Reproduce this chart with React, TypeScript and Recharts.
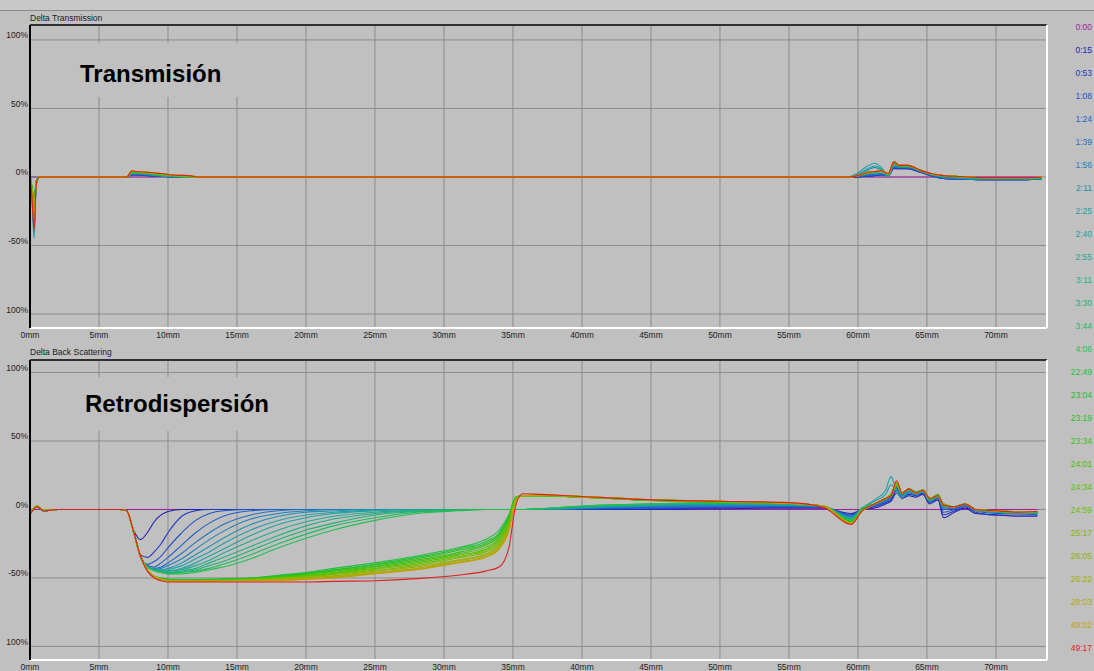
import React from 'react';
import { LineChart, Line, XAxis, YAxis, CartesianGrid, ReferenceLine } from 'recharts';

const W = 1094;
const H = 671;
const FONT = 'Arial, "Liberation Sans", sans-serif';
const BG = '#c0c0c0';
const GRID = '#8c8c8c';
const X_MAX = 73.7;
const PLOT_LEFT = 30;
const PLOT_RIGHT = 1047;

// scan times, oldest first (one trace per scan)
const scanTimes = [
  '0:00', '0:15', '0:53', '1:08', '1:24', '1:39', '1:56', '2:11', '2:25', '2:40',
  '2:55', '3:11', '3:30', '3:44', '4:06', '22:49', '23:04', '23:19', '23:34', '24:01',
  '24:34', '24:59', '25:17', '26:05', '26:22', '28:03', '49:02', '49:17',
];

const traceColors = [
  '#a020a0', '#2020b0', '#2038c0', '#2050c8', '#2060c8', '#2070c0', '#2080b8', '#2090b0', '#20a0a8', '#20a0a0',
  '#20a890', '#20b080', '#20b070', '#20b860', '#20c050', '#20c040', '#20c030', '#28c020', '#38c010', '#48c000',
  '#58c000', '#68c000', '#80b800', '#90b000', '#a0b000', '#b0a800', '#c0a000', '#e02020',
];

const xTickValues = [0, 5, 10, 15, 20, 25, 30, 35, 40, 45, 50, 55, 60, 65, 70];
const yTickValues = [100, 50, 0, -50, -100];
const yTickText = ['100%', '50%', '0%', '-50%', '100%'];

// Delta Transmission: tube height (mm) and delta (%) per scan
const transPosMm = [0, 0.15, 0.3, 0.45, 0.7, 7, 7.4, 7.7, 8.5, 9.5, 10.5, 11.5, 12.2, 59.3, 60, 60.7, 61.2, 61.7, 62.2, 62.6, 63, 63.6, 64.5, 65.3, 66.2, 67.5, 69, 70.5, 72, 73.3];

const transDelta: number[][] = [
  [0, 0, 0, 0, 0, 0, 0, 0, 0, 0, 0, 0, 0, 0, 0, 0, 0, 0, 0, 0, 0, 0, 0, 0, 0, 0, 0, 0, 0, 0],
  [1, -8, -18, -3, 0, 0, 1.5, 1.5, 1, 0.5, 0, 0, 0, 0, 0, 0.5, 1, 1.5, 1, 6, 6, 6, 3.5, 1, -1, -1.5, -2, -2, -2, -1.5],
  [1, -9, -22, -3, 0, 0, 1.5, 1.5, 1, 0.5, 0, 0, 0, 0, 0, 0.5, 1, 1.5, 1, 6.5, 6, 6, 3.5, 1, -1, -1.5, -2, -2, -2, -1.5],
  [1, -10, -25, -4, 0, 0, 2, 2, 1.5, 0.5, 0, 0, 0, 0, 0.5, 1, 1.5, 2, 1, 7, 6.5, 6.5, 4, 1, -1, -1.5, -2, -2, -2, -1.5],
  [1, -11, -28, -4, 0, 0, 2, 2, 1.5, 0.5, 0, 0, 0, 0, 0.5, 1, 1.5, 2, 1, 7, 7, 7, 4, 1.5, -0.5, -1.5, -2, -2, -2, -1.5],
  [1, -12, -30, -4, 0, 0, 2, 2, 1.5, 1, 0, 0, 0, 0, 0.5, 1.5, 2, 2, 1, 7.5, 7, 7, 4, 1.5, -0.5, -1, -1.5, -2, -2, -1.5],
  [1, -13, -33, -5, 0, 0, 2.5, 2.5, 2, 1, 0, 0, 0, 0, 1, 2, 3, 2.5, 1, 8, 7, 7, 4, 1.5, -0.5, -1, -1.5, -1.5, -1.5, -1],
  [1, -15, -38, -5, 0, 0, 2.5, 2.5, 2, 1, 0.5, 0, 0, 0, 2, 5, 7, 5, 1, 9, 7.5, 7.5, 4.5, 2, 0, -1, -1.5, -1.5, -1.5, -1],
  [1, -18, -45, -6, 0, 0, 2.5, 2.5, 2, 1, 0.5, 0, 0, 0, 3, 8, 10, 7, 1, 11, 8, 8, 4.5, 2, 0.5, -0.5, -1, -1, -1, -0.5],
  [1, -17, -42, -6, 0, 0, 3, 3, 2, 1, 0.5, 0, 0, 0, 2, 6, 8, 6, 1, 10, 8, 8, 4.5, 2, 0.5, -0.5, -1, -1, -1, -0.5],
  [1, -14, -35, -5, 0, 0, 3, 3, 2.5, 1.5, 0.5, 0, 0, 0, 1, 3, 4, 4, 1.5, 10, 8, 8, 4.5, 2, 0.5, -0.5, -1, -1, -1, -0.5],
  [1, -12, -30, -4, 0, 0, 3, 3, 2.5, 1.5, 0.5, 0, 0, 0, 1, 3, 3.5, 4, 2, 10, 8, 8, 5, 2, 0.5, 0, -0.5, -1, -1, -0.5],
  [1, -11, -28, -4, 0, 0, 3, 3, 2.5, 1.5, 0.5, 0, 0, 0, 1, 3, 3.5, 4, 2, 10, 8, 8, 5, 2, 0.5, 0, -0.5, -1, -1, -0.5],
  [1, -10, -26, -4, 0, 0, 3, 3, 2.5, 1.5, 0.5, 0, 0, 0, 1, 3, 3.5, 4, 2, 10.5, 8, 8, 5, 2, 0.5, 0, -0.5, -1, -1, -0.5],
  [1, -10, -25, -4, 0, 0, 3, 3, 2.5, 1.5, 0.5, 0, 0, 0, 1, 3, 3.5, 4, 2, 10.5, 8, 8, 5, 2, 1, 0, -0.5, -0.5, -1, -0.5],
  [1, -9, -22, -3, 0, 0, 3.5, 3.5, 3, 2, 1, 0.5, 0, 0, 1, 3, 3.5, 4, 2, 10.5, 8, 8, 5, 2, 1, 0, -0.5, -0.5, -0.5, -0.5],
  [1, -9, -22, -3, 0, 0, 3.5, 3.5, 3, 2, 1, 0.5, 0, 0, 1, 3, 3.5, 4, 2, 10.5, 8, 8, 5, 2, 1, 0, -0.5, -0.5, -0.5, -0.5],
  [1, -8, -20, -3, 0, 0, 3.5, 3.5, 3, 2, 1, 0.5, 0, 0, 1, 3, 3.5, 4, 2, 10.5, 8, 8, 5, 2, 1, 0, -0.5, -0.5, -0.5, -0.5],
  [1, -8, -20, -3, 0, 0, 4, 3.5, 3, 2, 1, 0.5, 0, 0, 1, 3, 4, 4, 2, 10.5, 8, 8, 5, 2, 1, 0, -0.5, -0.5, -0.5, -0.5],
  [1, -9, -22, -3, 0, 0, 4, 3.5, 3, 2, 1, 0.5, 0, 0, 1, 3, 4, 4, 2, 10.5, 8.5, 8, 5, 2, 1, 0, -0.5, -0.5, -0.5, -0.5],
  [1, -10, -24, -3, 0, 0, 4, 3.5, 3, 2, 1, 0.5, 0, 0, 1, 3, 4, 4, 2, 11, 8.5, 8, 5, 2, 1, 0, -0.5, -0.5, -0.5, -0.5],
  [1, -10, -25, -4, 0, 0, 4, 4, 3, 2, 1, 0.5, 0, 0, 1, 3.5, 4, 4.5, 2, 11, 8.5, 8.5, 5, 2.5, 1, 0.3, -0.5, -0.5, -0.5, -0.2],
  [1, -10, -26, -4, 0, 0, 4, 4, 3.5, 2.5, 1, 0.5, 0, 0, 1, 3.5, 4, 4.5, 2, 11, 8.5, 8.5, 5, 2.5, 1, 0.3, -0.5, -0.5, -0.5, -0.2],
  [1, -11, -28, -4, 0, 0, 4.5, 4, 3.5, 2.5, 1.2, 1, 0, 0, 1, 3.5, 4, 4.5, 2.5, 11, 8.5, 8.5, 5, 2.5, 1, 0.3, -0.5, -0.5, -0.5, -0.2],
  [1, -11, -28, -4, 0, 0, 4.5, 4, 3.5, 2.5, 1.2, 1, 0, 0, 1, 3.5, 4, 4.5, 2.5, 11, 8.5, 8.5, 5, 2.5, 1, 0.3, -0.5, -0.5, -0.5, -0.2],
  [1, -12, -30, -4, 0, 0, 4.5, 4, 3.5, 2.5, 1.3, 1, 0, 0, 1, 3.5, 4, 4.5, 2.5, 11, 8.5, 8.5, 5, 2.5, 1, 0.3, -0.5, -0.5, -0.5, -0.2],
  [1, -13, -32, -5, 0, 0, 4.5, 4, 3.5, 2.5, 1.3, 1, 0, 0, 1, 3.5, 4, 4.5, 2.5, 11, 8.5, 8.5, 5, 2.5, 1, 0.3, -0.5, -0.5, -0.5, -0.2],
  [1, -16, -39, -5, 0, 0, 4.5, 4, 3.5, 2.5, 1.3, 1, 0, 0, 1, 3.5, 4, 4.5, 2.5, 11, 8.5, 8.5, 5, 2.5, 1, 0.3, -0.5, -0.5, -0.5, -0.2],
];

// Delta Back Scattering: tube height (mm) and delta (%) per scan
const backPosMm = [
  0, 0.5, 1, 2, 6.5, 7, 7.5, 8, 8.5, 9, 9.5, 10, 11, 12, 13, 14, 16, 18, 20, 22, 25, 28, 31, 33,
  34, 34.7, 35.2, 35.7, 37, 40, 45, 50, 55, 57.5, 59.5, 60.3, 61.2, 62, 62.4, 62.8, 63.2, 63.7,
  64.2, 64.7, 65.2, 65.8, 66.2, 67, 67.8, 68.5, 70, 71.5, 73,
];

const backDelta: number[][] = [
  // 0:00
  [0, 0, 0, 0, 0, 0, 0, 0, 0, 0, 0, 0, 0, 0, 0, 0, 0, 0, 0, 0, 0, 0, 0, 0, 0, 0, 0, 0, 0, 0, 0, 0, 0, 0, 0, 0, 0, 0, 0, 0, 0, 0, 0, 0, 0, 0, 0, 0, 0, 0, 0, 0, 0],
  // 0:15
  [-3, 2, -1, 0, 0, -1, -15, -22, -17, -9, -4, -1.5, 0, 0, 0, 0, 0, 0, 0, 0, 0, 0, 0, 0, 0, 0, 0, 0, 0, 0, 0, 0.5, 1, 1, -3, 0, 1, 4, 6, 12, 8, 10, 9, 11, 4, 7, -6, -2, 1, -3, -4, -5, -5],
  // 0:53
  [-3, 2, -1, 0, 0, -1, -16, -33, -35, -31, -25, -17, -5, -1, 0, 0, 0, 0, 0, 0, 0, 0, 0, 0, 0, 0, 0, 0, 0, 0, 0.5, 1, 1.5, 1.5, -4, 0, 2, 5, 7, 14, 9, 11, 10, 12, 5, 8, -4, -1, 2, -2, -4, -4, -4],
  // 1:08
  [-3, 2, -1, 0, 0, -1, -16, -34, -40, -38, -34, -28, -17, -8, -3, -1, 0, 0, 0, 0, 0, 0, 0, 0, 0, 0, 0, 0, 0, 0.5, 1, 1.5, 2, 1.5, -4, 0, 2, 5, 8, 15, 10, 12, 11, 12, 6, 9, -2, 0, 3, -1, -3, -3, -4],
  // 1:24
  [-3, 2, -1, 0, 0, -1, -16, -34, -41, -42, -39, -35, -26, -17, -10, -5, -1, 0, 0, 0, 0, 0, 0, 0, 0, 0, 0, 0, 0, 0.5, 1.5, 2, 2, 2, -5, 0, 3, 6, 9, 16, 10, 13, 11, 13, 6, 9, 0, 1, 3, 0, -2, -3, -3],
  // 1:39
  [-3, 2, -1, 0, 0, -1, -16, -34, -42, -43, -42, -39, -32, -24, -17, -11, -4, -1, 0, 0, 0, 0, 0, 0, 0, 0, 0, 0, 0, 1, 2, 2.5, 2.5, 2, -5, 0, 3, 6, 9, 16, 11, 13, 12, 13, 6, 9, 1, 1, 3, 0, -2, -3, -3],
  // 1:56
  [-3, 2, -1, 0, 0, -1, -16, -34, -42, -44, -43, -41, -36, -29, -22, -16, -7, -3, -1, 0, 0, 0, 0, 0, 0, 0, 0, 0, 0, 1, 2.5, 3, 3, 2, -6, 0.5, 4, 7, 10, 17, 11, 14, 12, 14, 7, 10, 2, 2, 3, 0, -2, -2.5, -2.5],
  // 2:11
  [-3, 2, -1, 0, 0, -1, -16, -34, -42, -44, -44, -43, -39, -33, -27, -21, -11, -5, -2, -1, 0, 0, 0, 0, 0, 0, 0, 0, 0, 1, 3, 3.5, 3, 2, -6, 1, 4, 7, 10, 17, 12, 14, 12, 14, 7, 10, 2, 2, 4, 0, -2, -2.5, -2],
  // 2:25
  [-3, 2, -1, 0, 0, -1, -16, -34, -42, -44, -45, -44, -41, -36, -31, -25, -15, -8, -4, -2, -0.5, 0, 0, 0, 0, 0, 0, 0, 0.5, 1.5, 3, 4, 3.5, 2, -6, 1, 7, 14, 24, 13, 9, 13, 11, 13, 6, 9, 1, 2, 4, -1, -2, -3, -3],
  // 2:40
  [-3, 2, -1, 0, 0, -1, -16, -34, -42, -44, -45, -45, -43, -39, -34, -29, -19, -11, -6, -3, -1, 0, 0, 0, 0, 0, 0, 0, 0.5, 1.5, 3.5, 4, 3.5, 2, -7, 1, 6, 11, 18, 14, 10, 13, 12, 13, 6, 9, 2, 2, 4, 0, -2, -2.5, -2.5],
  // 2:55
  [-3, 2, -1, 0, 0, -1, -16, -34, -42, -44, -45, -45, -44, -41, -37, -32, -23, -15, -9, -5, -2, -0.5, 0, 0, 0, 0, 0, 0, 0.5, 2, 3.5, 4.5, 4, 2.5, -7, 1, 4, 8, 11, 17, 12, 14, 12, 14, 7, 10, 3, 2, 4, 0, -1.5, -2, -2],
  // 3:11
  [-3, 2, -1, 0, 0, -1, -16, -34, -42, -44, -45, -46, -45, -43, -39, -35, -27, -19, -12, -7, -3, -1, 0, 0, 0, 0, 0, 0, 0.5, 2, 4, 4.5, 4, 2.5, -7, 1, 4, 8, 11, 18, 12, 15, 12, 14, 7, 10, 3, 2, 4, 0, -1.5, -2, -2],
  // 3:30
  [-3, 2, -1, 0, 0, -1, -16, -34, -42, -44, -45, -46, -46, -44, -41, -38, -30, -22, -15, -10, -4, -1.5, -0.5, 0, 0, 0, 0, 0, 0.5, 2, 4, 4.5, 4, 2.5, -8, 1, 4, 8, 11, 18, 12, 15, 12, 14, 7, 10, 3, 2, 4, 0, -1.5, -2, -2],
  // 3:44
  [-3, 2, -1, 0, 0, -1, -16, -34, -42, -44, -46, -47, -46, -45, -43, -40, -33, -25, -18, -12, -6, -2, -0.5, 0, 0, 0, 0, 0, 0.5, 2.5, 4, 5, 4, 2.5, -8, 1, 4, 8, 11, 18, 12, 15, 13, 14, 8, 10, 3, 2, 4, 0, -1.5, -2, -2],
  // 4:06
  [-3, 2, -1, 0, 0, -1, -16, -34, -42, -45, -46, -47, -47, -46, -44, -42, -36, -28, -21, -15, -8, -3, -1, 0, 0, 0, 0, 0, 0.5, 2.5, 4, 5, 4.5, 2.5, -8, 1, 4, 8, 11, 18, 12, 15, 13, 14, 8, 10, 3, 2, 4, 0, -1.5, -2, -2],
  // 22:49
  [-3, 2.5, -0.5, 0, 0, -1, -16, -34, -44, -49, -50, -51, -51, -51, -51, -50.5, -50, -48, -46, -43, -39, -34, -28, -22, -15, -4, 9, 10, 10, 9, 6.5, 5.5, 4.5, 2.5, -9, -1, 4, 8, 10, 17, 12, 15, 12, 14, 8, 10, 4, 2, 4, 0, -1, -1.5, -1.5],
  // 23:04
  [-3, 2.5, -0.5, 0, 0, -1, -16, -34, -44, -49, -50, -51, -51.5, -51.5, -51, -51, -50, -48.5, -46.5, -44, -40, -35, -29, -23.5, -17, -5, 9, 10, 10, 9, 6.5, 5.5, 4.5, 2.5, -9, -1, 4, 8, 10, 17, 12, 15, 12, 14, 8, 10, 4, 2, 4, 0, -1, -1.5, -1.5],
  // 23:19
  [-3, 2.5, -0.5, 0, 0, -1, -16, -34, -44, -49, -50.5, -51.5, -51.5, -51.5, -51.5, -51, -50.5, -49, -47, -44.5, -40.5, -36, -30, -25, -18, -6, 8.5, 10, 10, 9, 6.5, 5.5, 4.5, 2.5, -9, -1, 4, 8, 11, 18, 12, 15, 12, 14, 8, 11, 4, 2, 4, 0, -1, -1.5, -1.5],
  // 23:34
  [-3, 2.5, -0.5, 0, 0, -1, -16, -34, -44, -49, -51, -51.5, -52, -52, -51.5, -51.5, -50.5, -49.5, -47.5, -45, -41.5, -37, -31.5, -26, -19.5, -7, 8.5, 10, 10, 9, 6.5, 5.5, 4.5, 2.5, -9, -1, 4, 8, 11, 18, 12, 15, 12, 14, 8, 10, 4, 2, 4, 0, -1, -1.5, -1.5],
  // 24:01
  [-3, 2.5, -0.5, 0, 0, -1, -16, -34, -44, -49, -51, -52, -52, -52, -52, -51.5, -51, -49.5, -48, -46, -42, -38, -32.5, -27.5, -21, -8.5, 8, 10, 10, 9, 7, 5.5, 4.5, 2.5, -10, -1, 4, 8, 11, 18, 12, 15, 12, 14, 8, 10, 4, 2, 4, 0, -1, -2, -1.5],
  // 24:34
  [-3, 2.5, -0.5, 0, 0, -1, -16, -34, -44, -49, -51, -52, -52, -52, -52, -52, -51, -50, -48.5, -46.5, -43, -39, -33.5, -29, -22, -9.5, 8, 10, 10, 9, 7, 5.5, 4.5, 2.5, -10, -1, 4, 8, 11, 19, 12, 15, 12, 14, 8, 10, 3, 2, 4, 0, -1, -2, -1.5],
  // 24:59
  [-3, 2.5, -0.5, 0, 0, -1, -16, -34, -44, -49, -51, -52, -52, -52, -52, -52, -51, -50, -49, -47, -43.5, -40, -34.5, -30, -23.5, -11, 7.5, 10, 10, 9, 7, 6, 4.5, 2.5, -10, -1, 4, 8, 11, 19, 12, 15, 12, 14, 8, 10, 3, 2, 4, 0, -1, -2, -1.5],
  // 25:17
  [-3, 2.5, -0.5, 0, 0, -1, -16, -34, -44, -49, -51, -52, -52, -52, -52, -52, -51.5, -50.5, -49.5, -47.5, -44.5, -41, -35.5, -31, -25, -12, 7, 10, 10.5, 9, 7, 6, 4.5, 2.5, -10, -1, 4, 8, 11, 19, 12, 15, 12, 14, 8, 10, 3, 2, 4, 0, -1, -2, -1.5],
  // 26:05
  [-3, 2.5, -0.5, 0, 0, -1, -16, -34, -44, -49, -51, -52, -52, -52, -52, -52, -51.5, -51, -50, -48.5, -45, -42, -37, -32.5, -26, -13, 7, 10, 10.5, 9.5, 7, 6, 4.5, 2.5, -10, -1, 4, 8, 10, 19, 12, 15, 12, 14, 8, 10, 3, 2, 4, 0, -1, -2, -1.5],
  // 26:22
  [-3, 2.5, -0.5, 0, 0, -1, -16, -34, -44, -49, -51, -52, -52, -52.5, -52, -52, -51.5, -51, -50, -49, -46, -43, -37.5, -33.5, -27, -14, 6.5, 10, 10.5, 9.5, 7, 6, 4.5, 2.5, -10, -1, 4, 8, 10, 20, 12, 15, 12, 14, 8, 10, 3, 2, 4, 0, -1, -2, -1.5],
  // 28:03
  [-3, 2.5, -0.5, 0, 0, -1, -16, -34, -44, -49, -51, -52, -52.5, -52.5, -52, -52, -52, -51.5, -50.5, -49.5, -46.5, -43.5, -38.5, -34.5, -28, -15, 6, 10, 10.5, 9.5, 7, 6, 4.5, 2.5, -10, -1, 4, 8, 10, 20, 12, 15, 12, 14, 8, 10, 3, 2, 4, 0, -1, -2, -1.5],
  // 49:02
  [-3, 2.5, -0.5, 0, 0, -1, -16, -34, -44, -49, -51, -52, -52.5, -52.5, -52.5, -52, -52, -52, -51, -50, -47, -44, -39, -35, -29, -16, 6, 10, 10.5, 9.5, 7, 6, 4.5, 2, -10, -1, 4, 8, 10, 20, 12, 15, 12, 14, 8, 10, 3, 2, 4, 0, -1, -2, -1.5],
  // 49:17
  [-4, 2, -1, 0, 0, -1, -16, -34, -45, -50, -52, -53, -53, -53, -53, -53, -53, -53, -53, -52.5, -52, -50.5, -48, -45, -42, -28, 3, 11.5, 11, 9.5, 7, 6, 5, 1.5, -11, -1, 4, 8, 10, 21, 12, 15, 12, 14, 8, 10, 3, 2, 4, 0, -1, -2, -1.5],
];

const toRows = (pos: number[], delta: number[][]) =>
  pos.map((x, i) => {
    const row: Record<string, number> = { x };
    delta.forEach((trace, s) => {
      row[`s${s}`] = trace[i];
    });
    return row;
  });

const transRows = toRows(transPosMm, transDelta);
const backRows = toRows(backPosMm, backDelta);

const tickStyle = { fontSize: 8.5, fill: '#1c1c1c', fontFamily: FONT };

const XTick = (props: any) => {
  const { x, y, payload } = props;
  return (
    <text x={x} y={y + 10} textAnchor="middle" {...tickStyle}>
      {`${payload.value}mm`}
    </text>
  );
};

const YTick = (props: any) => {
  const { x, y, payload } = props;
  return (
    <text x={x} y={y - 1.5} textAnchor="end" {...tickStyle}>
      {yTickText[yTickValues.indexOf(payload.value)]}
    </text>
  );
};

type PanelProps = {
  rows: Record<string, number>[];
  top: number;
  height: number;
  plotTop: number;
  plotBottom: number;
  yDomain: [number, number];
};

function Panel({ rows, top, height, plotTop, plotBottom, yDomain }: PanelProps) {
  return (
    <div style={{ position: 'absolute', left: 0, top }}>
      <LineChart
        width={W}
        height={height}
        data={rows}
        margin={{ top: plotTop, right: W - PLOT_RIGHT, bottom: 0, left: 0 }}
      >
        <CartesianGrid stroke={GRID} strokeWidth={1} />
        <XAxis
          type="number"
          dataKey="x"
          domain={[0, X_MAX]}
          allowDataOverflow
          ticks={xTickValues}
          interval={0}
          height={height - plotBottom}
          tickSize={0}
          tickMargin={0}
          tickLine={false}
          axisLine={{ stroke: '#ffffff', strokeWidth: 2 }}
          tick={XTick}
        />
        <YAxis
          type="number"
          domain={yDomain}
          allowDataOverflow
          ticks={yTickValues}
          interval={0}
          width={PLOT_LEFT}
          tickSize={0}
          tickMargin={2}
          tickLine={false}
          axisLine={{ stroke: '#000000', strokeWidth: 2 }}
          tick={YTick}
        />
        <ReferenceLine y={yDomain[1]} stroke="#303030" strokeWidth={2} />
        <ReferenceLine x={X_MAX} stroke="#ffffff" strokeWidth={2} />
        {traceColors.map((color, i) => (
          <Line
            key={scanTimes[i]}
            type="monotone"
            dataKey={`s${i}`}
            stroke={color}
            strokeWidth={1.1}
            dot={false}
            activeDot={false}
            isAnimationActive={false}
          />
        ))}
      </LineChart>
    </div>
  );
}

export default function App() {
  return (
    <div
      style={{
        position: 'absolute',
        left: 0,
        top: 0,
        width: W,
        height: H,
        background: BG,
        overflow: 'hidden',
        fontFamily: FONT,
      }}
    >
      <Panel rows={transRows} top={0} height={345} plotTop={25} plotBottom={328} yDomain={[-110.2, 110.9]} />
      <Panel rows={backRows} top={340} height={331} plotTop={20} plotBottom={320} yDomain={[-109.9, 109.1]} />

      <svg width={W} height={H} style={{ position: 'absolute', left: 0, top: 0, pointerEvents: 'none' }}>
        <rect x={0} y={0} width={W} height={10} fill="#c8c8c8" />
        <line x1={0} x2={W} y1={10.5} y2={10.5} stroke="#8a8a8a" strokeWidth={1} />

        <text x={30} y={20.5} fontSize={8.5} fill="#1c1c1c">Delta Transmission</text>
        <text x={30} y={355} fontSize={8.5} fill="#1c1c1c">Delta Back Scattering</text>

        <rect x={32} y={43} width={220} height={54} fill={BG} />
        <text x={80} y={81.5} fontSize={24} fontWeight="bold" fill="#000">Transmisión</text>

        <rect x={32} y={377} width={268} height={54} fill={BG} />
        <text x={85} y={411.5} fontSize={24} fontWeight="bold" fill="#000">Retrodispersión</text>

        {scanTimes.map((t, i) => (
          <text key={t} x={1092} y={30 + i * 23} textAnchor="end" fontSize={8.5} fill={traceColors[i]}>
            {t}
          </text>
        ))}
      </svg>
    </div>
  );
}
